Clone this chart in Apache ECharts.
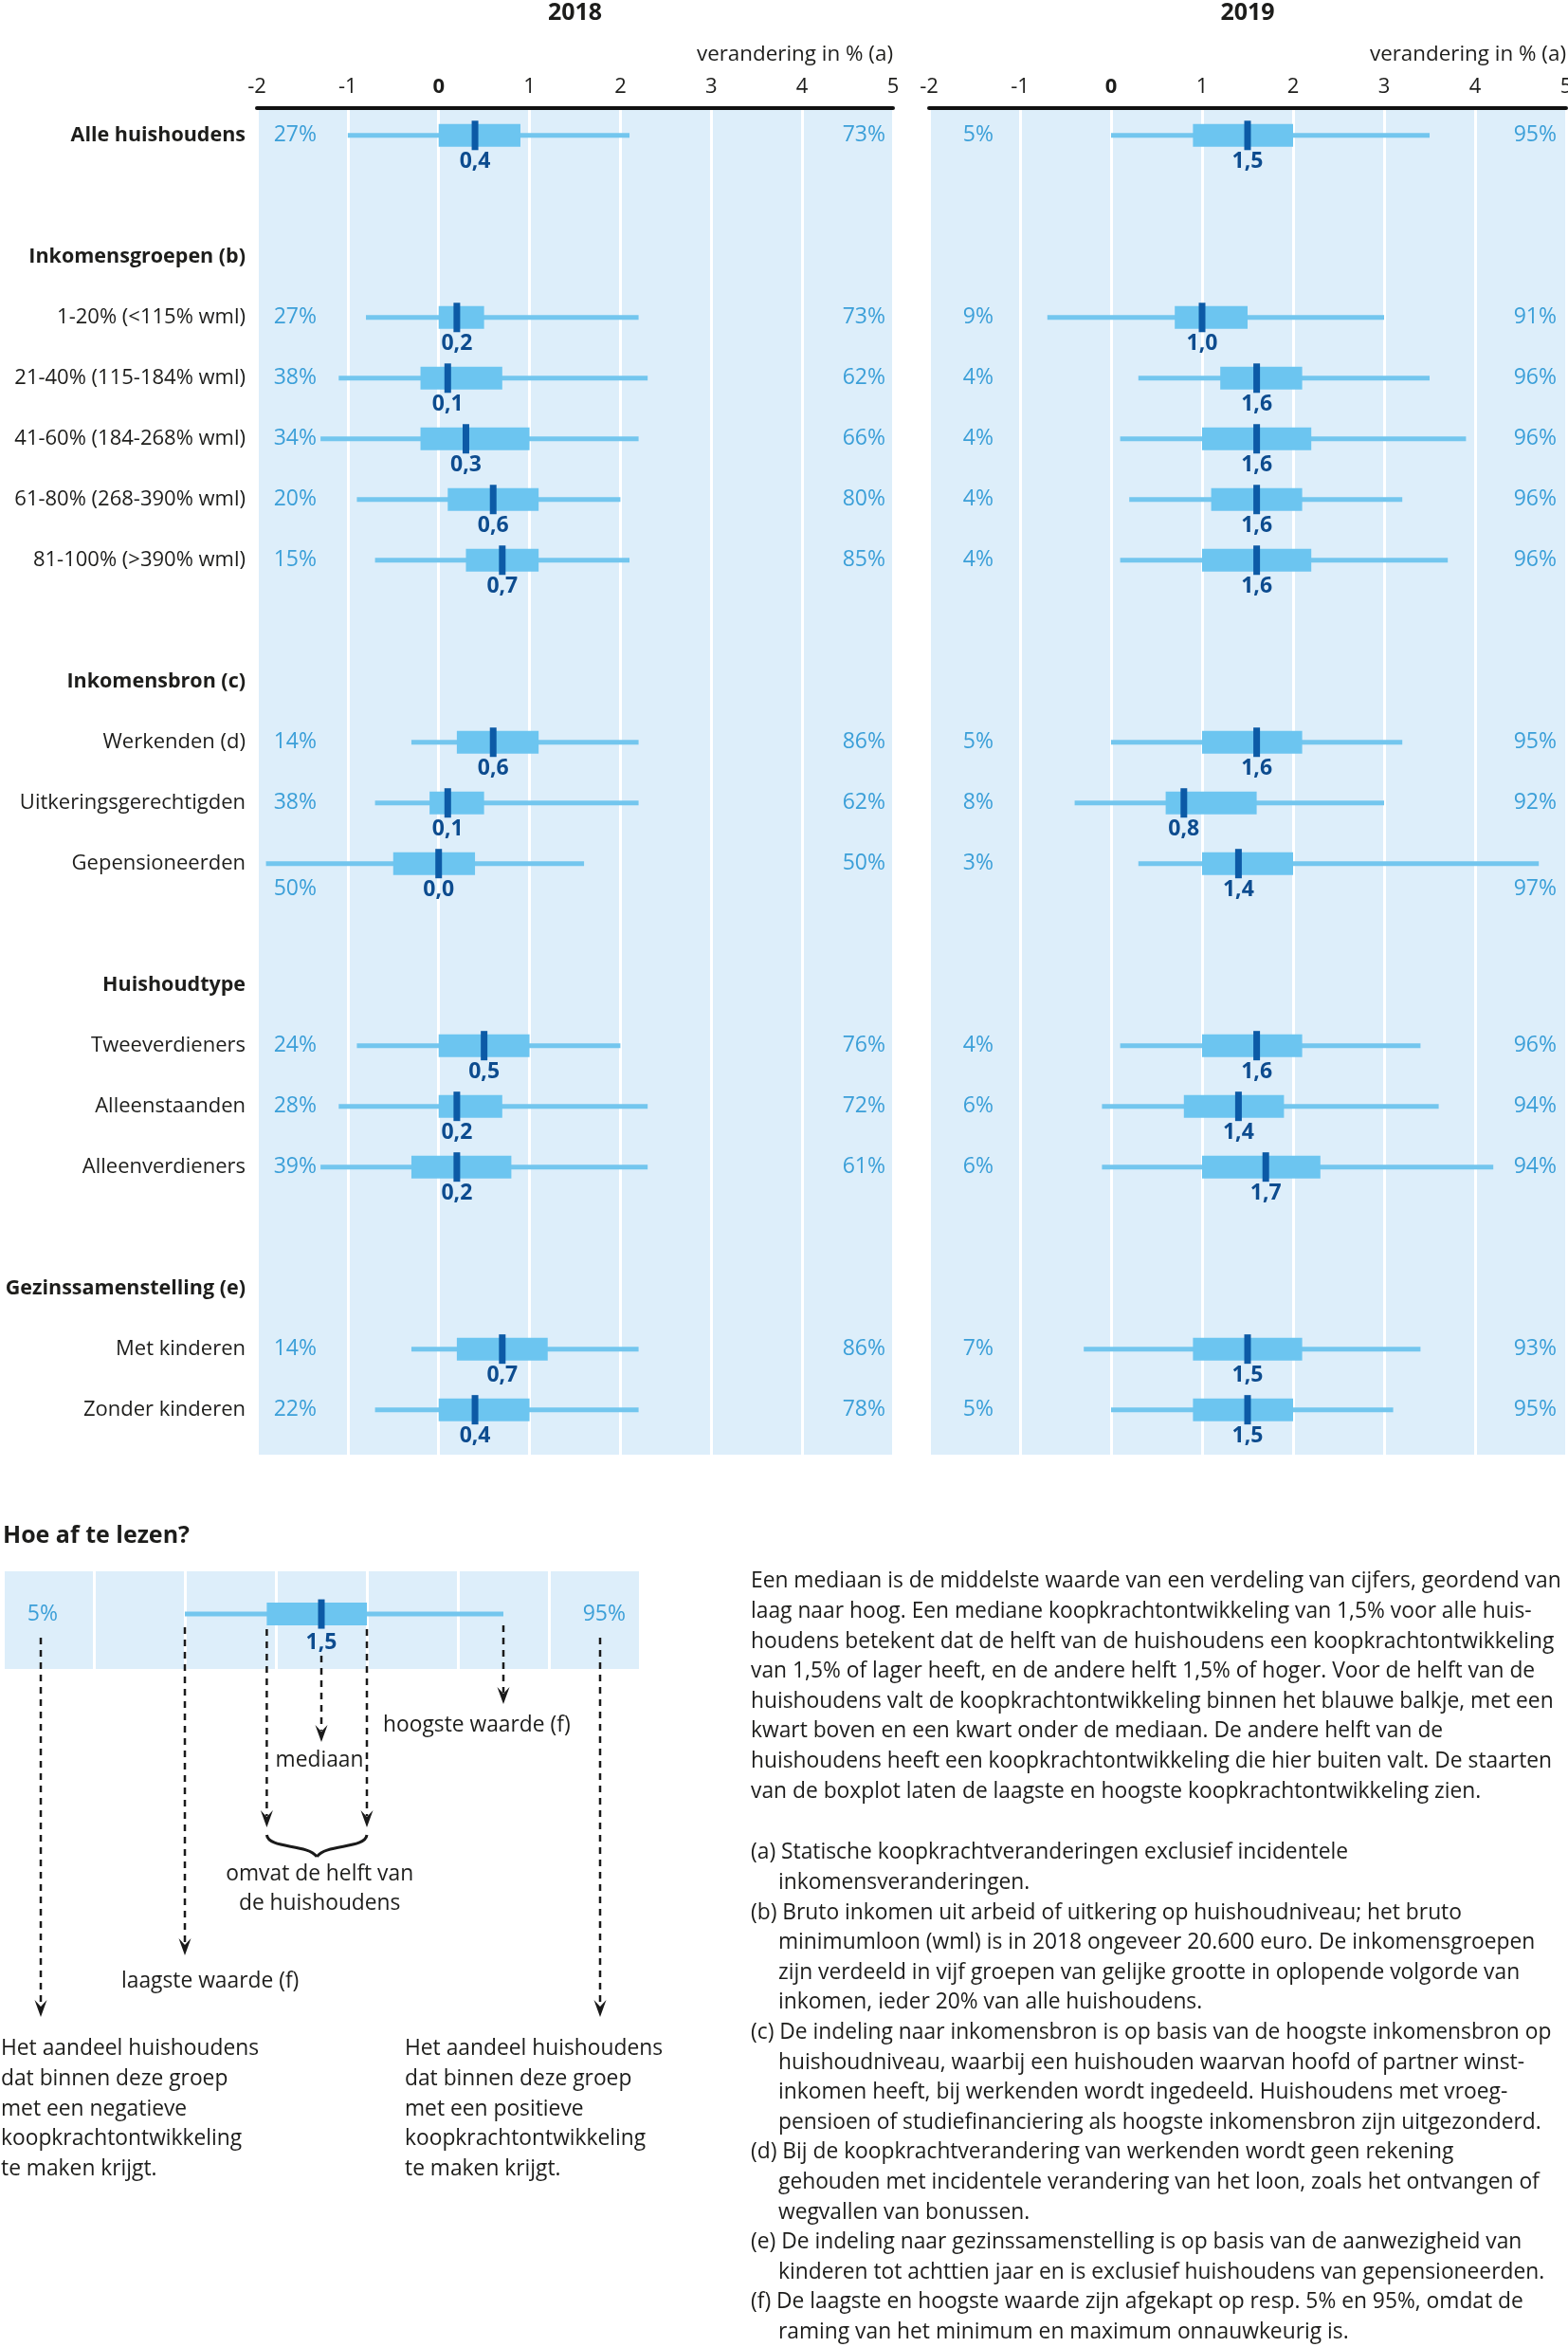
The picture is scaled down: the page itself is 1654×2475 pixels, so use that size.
<!DOCTYPE html>
<html><head><meta charset="utf-8">
<script src="https://cdn.jsdelivr.net/npm/echarts@6/dist/echarts.min.js"></script>
<style>html,body{margin:0;padding:0;background:#fff;overflow:hidden}#c{width:1654px;height:2475px}</style>
</head><body><div id="c"></div>
<script>
// ---------- DATA ----------
const rows = ['Alle huishoudens','','Inkomensgroepen (b)','1-20% (<115% wml)','21-40% (115-184% wml)','41-60% (184-268% wml)','61-80% (268-390% wml)','81-100% (>390% wml)','','Inkomensbron (c)','Werkenden (d)','Uitkeringsgerechtigden','Gepensioneerden','','Huishoudtype','Tweeverdieners','Alleenstaanden','Alleenverdieners','','Gezinssamenstelling (e)','Met kinderen','Zonder kinderen'];
const boldRows = ['Alle huishoudens','Inkomensgroepen (b)','Inkomensbron (c)','Huishoudtype','Gezinssamenstelling (e)'];
const categories = ['Alle huishoudens','1-20% (<115% wml)','21-40% (115-184% wml)','41-60% (184-268% wml)','61-80% (268-390% wml)','81-100% (>390% wml)','Werkenden (d)','Uitkeringsgerechtigden','Gepensioneerden','Tweeverdieners','Alleenstaanden','Alleenverdieners','Met kinderen','Zonder kinderen'];

const low2018  = [-1.0,-0.8,-1.1,-1.3,-0.9,-0.7,-0.3,-0.7,-1.9,-0.9,-1.1,-1.3,-0.3,-0.7];
const q1_2018  = [ 0.0, 0.0,-0.2,-0.2, 0.1, 0.3, 0.2,-0.1,-0.5, 0.0, 0.0,-0.3, 0.2, 0.0];
const med2018  = [ 0.4, 0.2, 0.1, 0.3, 0.6, 0.7, 0.6, 0.1, 0.0, 0.5, 0.2, 0.2, 0.7, 0.4];
const q3_2018  = [ 0.9, 0.5, 0.7, 1.0, 1.1, 1.1, 1.1, 0.5, 0.4, 1.0, 0.7, 0.8, 1.2, 1.0];
const high2018 = [ 2.1, 2.2, 2.3, 2.2, 2.0, 2.1, 2.2, 2.2, 1.6, 2.0, 2.3, 2.3, 2.2, 2.2];
const neg2018  = [27,27,38,34,20,15,14,38,50,24,28,39,14,22];
const pos2018  = [73,73,62,66,80,85,86,62,50,76,72,61,86,78];

const low2019  = [ 0.0,-0.7, 0.3, 0.1, 0.2, 0.1, 0.0,-0.4, 0.3, 0.1,-0.1,-0.1,-0.3, 0.0];
const q1_2019  = [ 0.9, 0.7, 1.2, 1.0, 1.1, 1.0, 1.0, 0.6, 1.0, 1.0, 0.8, 1.0, 0.9, 0.9];
const med2019  = [ 1.5, 1.0, 1.6, 1.6, 1.6, 1.6, 1.6, 0.8, 1.4, 1.6, 1.4, 1.7, 1.5, 1.5];
const q3_2019  = [ 2.0, 1.5, 2.1, 2.2, 2.1, 2.2, 2.1, 1.6, 2.0, 2.1, 1.9, 2.3, 2.1, 2.0];
const high2019 = [ 3.5, 3.0, 3.5, 3.9, 3.2, 3.7, 3.2, 3.0, 4.7, 3.4, 3.6, 4.2, 3.4, 3.1];
const neg2019  = [5,9,4,4,4,4,5,8,3,4,6,6,7,5];
const pos2019  = [95,91,96,96,96,96,95,92,97,96,94,94,93,95];

const years = ['2018','2019'];
const axisMin = -2, axisMax = 5, axisStep = 1;
const axisName = 'verandering in % (a)';

const paragraph = [
 'Een mediaan is de middelste waarde van een verdeling van cijfers, geordend van',
 'laag naar hoog. Een mediane koopkrachtontwikkeling van 1,5% voor alle huis-',
 'houdens betekent dat de helft van de huishoudens een koopkrachtontwikkeling',
 'van 1,5% of lager heeft, en de andere helft 1,5% of hoger. Voor de helft van de',
 'huishoudens valt de koopkrachtontwikkeling binnen het blauwe balkje, met een',
 'kwart boven en een kwart onder de mediaan. De andere helft van de',
 'huishoudens heeft een koopkrachtontwikkeling die hier buiten valt. De staarten',
 'van de boxplot laten de laagste en hoogste koopkrachtontwikkeling zien.'
];
const footnotes = [
 ['(a) Statische koopkrachtveranderingen exclusief incidentele','inkomensveranderingen.'],
 ['(b) Bruto inkomen uit arbeid of uitkering op huishoudniveau; het bruto','minimumloon (wml) is in 2018 ongeveer 20.600 euro. De inkomensgroepen','zijn verdeeld in vijf groepen van gelijke grootte in oplopende volgorde van','inkomen, ieder 20% van alle huishoudens.'],
 ['(c) De indeling naar inkomensbron is op basis van de hoogste inkomensbron op','huishoudniveau, waarbij een huishouden waarvan hoofd of partner winst-','inkomen heeft, bij werkenden wordt ingedeeld. Huishoudens met vroeg-','pensioen of studiefinanciering als hoogste inkomensbron zijn uitgezonderd.'],
 ['(d) Bij de koopkrachtverandering van werkenden wordt geen rekening','gehouden met incidentele verandering van het loon, zoals het ontvangen of','wegvallen van bonussen.'],
 ['(e) De indeling naar gezinssamenstelling is op basis van de aanwezigheid van','kinderen tot achttien jaar en is exclusief huishoudens van gepensioneerden.'],
 ['(f) De laagste en hoogste waarde zijn afgekapt op resp. 5% en 95%, omdat de','raming van het minimum en maximum onnauwkeurig is.']
];
const leftNote = ['Het aandeel huishoudens','dat binnen deze groep','met een negatieve','koopkrachtontwikkeling','te maken krijgt.'];
const rightNote = ['Het aandeel huishoudens','dat binnen deze groep','met een positieve','koopkrachtontwikkeling','te maken krijgt.'];

// ---------- STYLE ----------
const FONT = '"Open Sans", sans-serif';
const TXT = '#1d1d1b';
const BG = '#ddeefa';
const BOX = '#6cc5f0';
const WHISK = '#73c6ee';
const MED = '#0c5aa6';
const MEDTXT = '#0d4c8f';
const PCT = '#3b9fd8';
const BODY = 22.8;

function fmt(v){ return v.toFixed(1).replace('.', ','); }

function makeData(low,q1,med,q3,high,neg,pos,idx){
  return idx.map(i => [rows.indexOf(categories[i]), low[i], q1[i], med[i], q3[i], high[i], neg[i], pos[i]]);
}

function boxRender(cfg){
  return function(params, api){
    const cs = params.coordSys;
    const row = api.value(0), lo = api.value(1), q1 = api.value(2), md = api.value(3), q3 = api.value(4), hi = api.value(5);
    const neg = api.value(6), pos = api.value(7);
    const y = api.coord([0,row])[1];
    const xl = api.coord([lo,row])[0], xq1 = api.coord([q1,row])[0], xm = api.coord([md,row])[0];
    const xq3 = api.coord([q3,row])[0], xh = api.coord([hi,row])[0];
    const txt = (x,yy,t,fill,size,weight,align) => ({type:'text', x:x, y:yy, style:{text:t, fill:fill, fontSize:size, fontWeight:weight, fontFamily:FONT, align:align, textAlign:align, verticalAlign:'middle', textVerticalAlign:'middle'}});
    return {type:'group', children:[
      {type:'rect', shape:{x:xl, y:y-2.5, width:xh-xl, height:5}, style:{fill:WHISK}},
      {type:'rect', shape:{x:xq1, y:y-12, width:xq3-xq1, height:24}, style:{fill:BOX}},
      {type:'rect', shape:{x:xm-3.5, y:y-15.5, width:7, height:31}, style:{fill:MED}},
      txt(xm, y+cfg.medDy, fmt(md), MEDTXT, 23, 'bold', 'center'),
      txt(cs.x+cfg.negOff, lo < -1.5 ? y+27 : y, neg+'%', PCT, 23, 'normal', 'right'),
      txt(cs.x+cs.width-cfg.posOff, hi > 4.5 ? y+27 : y, pos+'%', PCT, 23, 'normal', 'right')
    ]};
  };
}

function labelRender(params, api){
  const cs = params.coordSys;
  const row = api.value(1);
  const name = rows[row];
  const y = api.coord([axisMin,row])[1];
  const bold = boldRows.indexOf(name) >= 0;
  return {type:'text', x:cs.x-12, y:y, style:{text:name, fill:TXT, fontSize:bold?21.5:22, fontWeight:bold?'bold':'normal', fontFamily:FONT, align:'right', textAlign:'right', verticalAlign:'middle', textVerticalAlign:'middle'}};
}

const all = categories.map((c,i)=>i);
const chart = echarts.init(document.getElementById('c'), null, {renderer:'canvas'});

function xAx(gi, main){
  return {gridIndex:gi, type:'value', min:axisMin, max:axisMax, interval:axisStep, position:'top',
    axisLine:{show:main, onZero:false, lineStyle:{color:'#111', width:4}},
    axisTick:{show:false},
    axisLabel:{show:main, margin:11, fontSize:22, color:TXT, fontFamily:FONT,
      formatter: v => v === 0 ? '{b|0}' : String(v), rich:{b:{fontWeight:'bold', fontSize:22, fontFamily:FONT, color:TXT}}},
    splitLine:{show:true, lineStyle:{color:'#ffffff', width:3}}};
}

const gridBase = {show:true, backgroundColor:BG, borderWidth:0, containLabel:false, outerBoundsMode:'none'};
const option = {
  animation:false,
  grid:[
    Object.assign({left:271, top:114, width:671, height:1420}, gridBase),
    Object.assign({left:980, top:114, width:672, height:1420}, gridBase),
    Object.assign({left:3, top:1657, width:672, height:103}, gridBase)
  ],
  xAxis:[xAx(0,true), xAx(1,true), xAx(2,false)],
  yAxis:[
    {gridIndex:0, type:'value', min:-0.45, max:21.74, inverse:true, show:false},
    {gridIndex:1, type:'value', min:-0.45, max:21.74, inverse:true, show:false},
    {gridIndex:2, type:'value', min:-0.7, max:0.9, inverse:true, show:false}
  ],
  series:[
    {type:'custom', name:years[0], xAxisIndex:0, yAxisIndex:0, clip:false, renderItem:boxRender({negOff:63, posOff:8, medDy:28}),
      encode:{x:[1,2,3,4,5], y:0}, data:makeData(low2018,q1_2018,med2018,q3_2018,high2018,neg2018,pos2018,all)},
    {type:'custom', name:years[1], xAxisIndex:1, yAxisIndex:1, clip:false, renderItem:boxRender({negOff:68, posOff:10, medDy:28}),
      encode:{x:[1,2,3,4,5], y:0}, data:makeData(low2019,q1_2019,med2019,q3_2019,high2019,neg2019,pos2019,all)},
    {type:'custom', name:'uitleg', xAxisIndex:2, yAxisIndex:2, clip:false, renderItem:boxRender({negOff:58, posOff:15, medDy:30}),
      encode:{x:[1,2,3,4,5], y:0}, data:makeData(low2019,q1_2019,med2019,q3_2019,high2019,neg2019,pos2019,[0]).map(d => (d[0]=0, d))},
    {type:'custom', name:'labels', xAxisIndex:0, yAxisIndex:0, clip:false, renderItem:labelRender,
      encode:{x:0, y:1}, data: rows.map((r,i)=>[axisMin,i]).filter(d => rows[d[1]] !== '')}
  ]
};
chart.setOption(option);

// ---------- annotations ----------
const px = v => chart.convertToPixel({xAxisIndex:2}, v);
function T(x,y,text,opt){
  opt = opt || {};
  return {type:'text', x:x, y:y, silent:true, style:{text:text, fill:opt.fill||TXT, fontSize:opt.size||BODY, fontWeight:opt.weight||'normal', fontFamily:FONT,
    align:opt.align||'left', textAlign:opt.align||'left', verticalAlign:'middle', textVerticalAlign:'middle'}};
}
function arrow(x,y1,y2){
  return [
    {type:'line', silent:true, shape:{x1:x, y1:y1, x2:x, y2:y2-12}, style:{stroke:'#1a1a1a', lineWidth:2.5, lineDash:[7,6]}},
    {type:'polygon', silent:true, shape:{points:[[x-6.5,y2-18],[x,y2-11],[x+6.5,y2-18],[x,y2]]}, style:{fill:'#1a1a1a'}}
  ];
}
const g = [];
const g0L = 271, g0R = 942, g1L = 980, g1R = 1652;
g.push(T((g0L+g0R)/2, 14, years[0], {weight:'bold', size:25, align:'center'}));
g.push(T((g1L+g1R)/2, 14, years[1], {weight:'bold', size:25, align:'center'}));
g.push(T(g0R, 58, axisName, {size:22.4, align:'right'}));
g.push(T(g1R, 58, axisName, {size:22.4, align:'right'}));
g.push(T(3, 1620, 'Hoe af te lezen?', {weight:'bold', size:25}));

const xLo = px(low2019[0]), xQ1 = px(q1_2019[0]), xMd = px(med2019[0]), xQ3 = px(q3_2019[0]), xHi = px(high2019[0]);
g.push(...arrow(43, 1727, 2127));
g.push(...arrow(633, 1727, 2127));
g.push(...arrow(xLo, 1716, 2062));
g.push(...arrow(xQ1, 1718, 1927));
g.push(...arrow(xQ3, 1718, 1927));
g.push(...arrow(xMd, 1746, 1837));
g.push(...arrow(xHi, 1714, 1797));
const bc = (xQ1+xQ3)/2;
g.push({type:'bezierCurve', silent:true, shape:{x1:xQ1, y1:1935, cpx1:xQ1+2, cpy1:1950, cpx2:bc-10, cpy2:1944, x2:bc, y2:1958}, style:{stroke:'#1a1a1a', lineWidth:3, fill:null}});
g.push({type:'bezierCurve', silent:true, shape:{x1:xQ3, y1:1935, cpx1:xQ3-2, cpy1:1950, cpx2:bc+10, cpy2:1944, x2:bc, y2:1958}, style:{stroke:'#1a1a1a', lineWidth:3, fill:null}});

g.push(T(404, 1820, 'hoogste waarde (f)'));
g.push(T(xMd-2, 1857, 'mediaan', {align:'center'}));
g.push(T(bc+3, 1977, 'omvat de helft van', {align:'center'}));
g.push(T(bc+3, 2008, 'de huishoudens', {align:'center'}));
g.push(T(128, 2090, 'laagste waarde (f)'));

const LH = 31.6;
leftNote.forEach((l,i)=>g.push(T(1, 2161+i*LH, l)));
rightNote.forEach((l,i)=>g.push(T(427, 2161+i*LH, l)));
paragraph.forEach((l,i)=>g.push(T(792, 1668+i*LH, l)));
let k = 0;
footnotes.forEach(fn => fn.forEach((l,j) => { g.push(T(j===0?792:821, 1954+k*LH, l)); k++; }));

chart.setOption({graphic:{elements:g}});
</script>
</body></html>
